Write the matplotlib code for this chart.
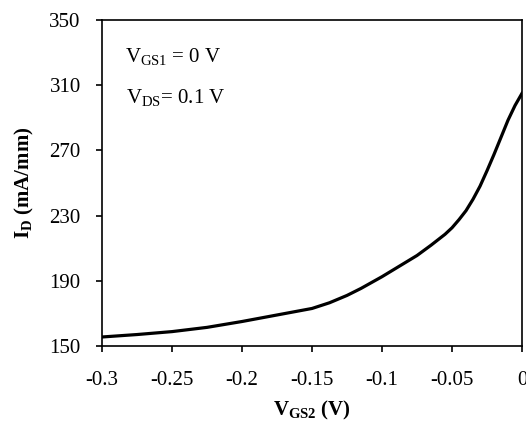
import numpy as np
import matplotlib
matplotlib.use("Agg")
import matplotlib.pyplot as plt

plt.rcParams['font.family'] = ['Liberation Serif', 'DejaVu Serif']
plt.rcParams['mathtext.fontset'] = 'custom'
plt.rcParams['mathtext.rm'] = 'Liberation Serif'
plt.rcParams['mathtext.it'] = 'Liberation Serif:italic'
plt.rcParams['mathtext.bf'] = 'Liberation Serif:bold'

# drain current vs second gate voltage
vgs2 = [-0.3, -0.275, -0.25, -0.225, -0.2, -0.175, -0.15, -0.1375, -0.125,
        -0.115, -0.1, -0.09, -0.075, -0.065, -0.055, -0.05, -0.045, -0.04,
        -0.035, -0.03, -0.025, -0.02, -0.015, -0.01, -0.005, 0.0]
i_d = [155.5, 157, 158.8, 161.4, 165, 169, 173, 176.5, 181,
       185.3, 192.5, 197.7, 205.5, 211.8, 218.5, 222.5, 227.5, 233,
       240, 248, 257.5, 267.5, 278, 288.5, 297.5, 305]

xticks = [-0.3, -0.25, -0.2, -0.15, -0.1, -0.05, 0]
xticklabels = ['-0.3', '-0.25', '-0.2', '-0.15', '-0.1', '-0.05', '0']
yticks = [150, 190, 230, 270, 310, 350]

fig = plt.figure(figsize=(5.26, 4.25), dpi=100)
ax = fig.add_axes([0.194, 0.186, 0.7984, 0.767])

ax.plot(vgs2, i_d, color='black', lw=2.3, solid_joinstyle='round')

ax.set_xlim(-0.3, 0)
ax.set_ylim(150, 350)
ax.set_xticks(xticks)
ax.set_xticklabels(xticklabels)
ax.set_yticks(yticks)
ax.tick_params(direction='out', length=4.3, width=1.2, labelsize=15)
ax.tick_params(axis='y', pad=11)
ax.tick_params(axis='x', pad=14)
for s in ax.spines.values():
    s.set_linewidth(1.2)

ax.set_xlabel(r'$\mathbf{V_{GS2}}$' + ' (V)', fontsize=15, fontweight='bold', labelpad=6)
ax.set_ylabel(r'$\mathbf{I_{D}}$' + ' (mA/mm)', fontsize=15, fontweight='bold', labelpad=10)

ax.text(0.055, 0.871, r'$\mathrm{V_{GS1}}$ = 0 V', transform=ax.transAxes,
        fontsize=15, va='baseline')
ax.text(0.057, 0.745, r'$\mathrm{V_{DS}}$= 0.1 V', transform=ax.transAxes,
        fontsize=15, va='baseline')

fig.savefig('out.png', dpi=100)
